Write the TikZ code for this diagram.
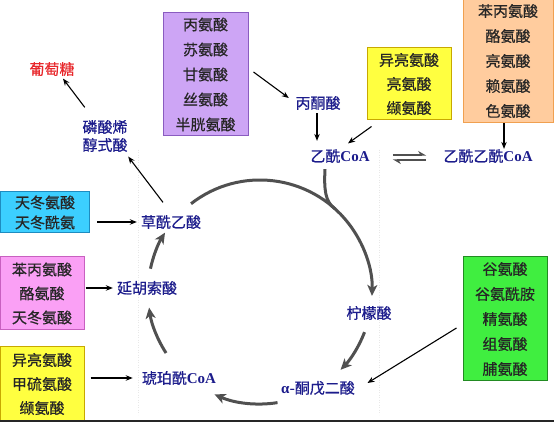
\documentclass[tikz,border=0pt]{standalone}
\usepackage{fontspec}
\newfontfamily\cjk{Noto Sans CJK SC}[FakeBold=0.6]
\newfontfamily\lat{Liberation Serif}
\usetikzlibrary{arrows.meta,calc}
\definecolor{lblue}{HTML}{1C1C8C}
\definecolor{gred}{HTML}{E8282C}
\definecolor{boxtxt}{HTML}{262626}
\definecolor{cycgray}{HTML}{505050}
\definecolor{purpfill}{HTML}{CDA5F5}
\definecolor{purpdraw}{HTML}{8A5CC0}
\definecolor{yelfill}{HTML}{FFFF40}
\definecolor{yeldraw}{HTML}{C8A800}
\definecolor{orgfill}{HTML}{FFCC9E}
\definecolor{orgdraw}{HTML}{F0A050}
\definecolor{cyanfill}{HTML}{3CCFFF}
\definecolor{cyandraw}{HTML}{1E8CC0}
\definecolor{pinkfill}{HTML}{FAA0F5}
\definecolor{pinkdraw}{HTML}{C860C0}
\definecolor{grnfill}{HTML}{40EE40}
\definecolor{grndraw}{HTML}{228B22}
\newcommand{\CoA}{{\lat\bfseries CoA}}
\begin{document}
\begin{tikzpicture}[x=1pt,y=1pt,
  lbl/.style={inner sep=0pt, text=lblue, font=\cjk\fontsize{15}{18}\selectfont, align=center},
  abox/.style={draw, line width=1pt, inner sep=0pt, align=center, text=boxtxt},
  sp25/.style={font=\cjk\fontsize{15}{25}\selectfont},
  sp24/.style={font=\cjk\fontsize{15}{24}\selectfont},
  sp20/.style={font=\cjk\fontsize{15}{20}\selectfont},
  arr/.style={line width=1.1pt, -{Stealth[length=7pt,width=5.5pt]}},
  cyc/.style={line width=3pt, draw=cycgray, -{Stealth[length=11pt,width=10pt,inset=3pt]}},
  harp/.style={line width=1.5pt, draw=cycgray, -{Stealth[harpoon,length=7pt,width=8pt]}}]
\useasboundingbox (0,0) rectangle (554,422);
\fill[white] (0,0) rectangle (554,422);

% faint guide lines
\draw[gray!18, dotted, line width=0.5pt] (138,272) -- (138,7);
\draw[gray!18, dotted, line width=0.5pt] (379,272) -- (379,7);

% boxes
\node[abox, sp25, fill=purpfill, draw=purpdraw, minimum width=85, minimum height=123] (purple) at (205.5,347.5)
  {丙氨酸\\苏氨酸\\甘氨酸\\丝氨酸\\半胱氨酸};
\node[abox, sp24, fill=yelfill, draw=yeldraw, minimum width=84, minimum height=72] (ytop) at (409,338)
  {异亮氨酸\\亮氨酸\\缬氨酸};
\node[abox, sp25, fill=orgfill, draw=orgdraw, minimum width=90, minimum height=124] (orange) at (508,361)
  {苯丙氨酸\\酪氨酸\\亮氨酸\\赖氨酸\\色氨酸};
\node[abox, sp20, fill=cyanfill, draw=cyandraw, minimum width=89, minimum height=41] (cyan) at (45,209.5)
  {天冬氨酸\\天冬酰氨};
\node[abox, sp24, fill=pinkfill, draw=pinkdraw, minimum width=84, minimum height=73] (pink) at (42,128.5)
  {苯丙氨酸\\酪氨酸\\天冬氨酸};
\node[abox, sp24, fill=yelfill, draw=yeldraw, minimum width=84, minimum height=74] (ybl) at (42,38)
  {异亮氨酸\\甲硫氨酸\\缬氨酸};
\node[abox, sp25, fill=grnfill, draw=grndraw, minimum width=84, minimum height=124] (green) at (505,103)
  {谷氨酸\\谷氨酰胺\\精氨酸\\组氨酸\\脯氨酸};

% labels
\node[lbl, text=gred] (glu) at (52,353) {葡萄糖};
\node[lbl] (pep) at (105,286) {磷酸烯\\醇式酸};
\node[lbl] (pyr) at (318,319) {丙酮酸};
\node[lbl] (acCoA) at (340,266) {乙酰\CoA};
\node[lbl] (acac) at (488,266) {乙酰乙酰\CoA};
\node[lbl] (oaa) at (171,200) {草酰乙酸};
\node[lbl] (fum) at (147,134) {延胡索酸};
\node[lbl] (succ) at (179,44) {琥珀酰\CoA};
\node[lbl] (cit) at (369,109) {柠檬酸};
\node[lbl] (akg) at (318,34) {{\lat\bfseries α}-酮戊二酸};

% cycle
\coordinate (C) at (260,130);
\draw[cyc] ($(C)+(128:112)$) arc[start angle=128, end angle=-2, radius=112];
\draw[cyc] ($(C)+(-21:112)$) arc[start angle=-21, end angle=-44, radius=112];
\draw[cyc] ($(C)+(-81:112)$) arc[start angle=-81, end angle=-114, radius=112];
\draw[cyc] ($(C)+(-147:112)$) arc[start angle=-147, end angle=-172, radius=112];
\draw[cyc] ($(C)+(168:112)$) arc[start angle=168, end angle=148, radius=112];
\coordinate (merge) at ($(C)+(48:112)$);
\draw[line width=3pt, draw=cycgray] ($(acCoA.south)+(-15,-6)$) .. controls ($(acCoA.south)+(-16,-26)$) and ($(merge)+(-10,7)$) .. (merge);

% arrows
\draw[arr] ($(purple.east)+(5,2.5)$) -- ($(pyr.west)+(-6.5,5)$);
\draw[arr] ($(pyr.south)+(-1,-3)$) -- ($(pyr.south |- acCoA.north)+(-1,8)$);
\draw[arr] ($(ytop.south west)+(5,-6)$) -- ($(acCoA.north)+(8,5.5)$);
\draw[arr] ($(orange.south)+(-4,0)$) -- ($(acac.north)+(16,0)$);
\draw[harp] ($(acCoA.east)+(23,1)$) -- ($(acac.west)+(-17,1)$);
\draw[harp] ($(acac.west)+(-17,-4)$) -- ($(acCoA.east)+(23,-4)$);
\draw[arr] ($(cyan.east |- oaa)+(7,0)$) -- ($(oaa.west)+(-4,0)$);
\draw[arr] ($(oaa.north)+(-8,12.5)$) -- ($(pep.south east)+(0.5,-4.5)$);
\draw[arr] ($(pep.north west)+(2.5,12.5)$) -- ($(glu.south)+(11,-2.5)$);
\draw[arr] ($(pink.east |- fum)+(1,0)$) -- ($(fum.west)+(-4,0)$);
\draw[arr] ($(ybl.east |- succ)+(6,0)$) -- ($(succ.west)+(-9,0)$);
\draw[arr] ($(green.west)+(-6,-9)$) -- ($(akg.east)+(12.5,5)$);

% bottom rule
\draw[line width=2pt, draw=black!85] (0,1) -- (554,1);
\end{tikzpicture}
\end{document}
